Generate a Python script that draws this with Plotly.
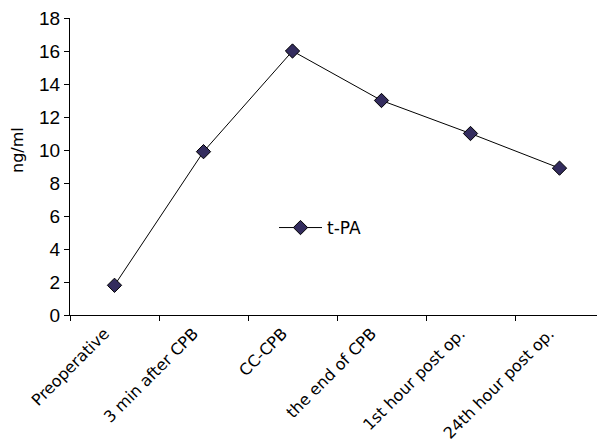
import plotly.graph_objects as go

categories = ["Preoperative", "3 min after CPB", "CC-CPB", "the end of CPB",
              "1st hour post op.", "24th hour post op."]
tpa_values = [1.8, 9.9, 16.0, 13.0, 11.0, 8.9]
y_ticks = [0, 2, 4, 6, 8, 10, 12, 14, 16, 18]

fig = go.Figure()
fig.add_trace(go.Scatter(
    x=categories, y=tpa_values, name="t-PA", mode="lines+markers",
    line=dict(color="black", width=1),
    marker=dict(symbol="diamond", size=11, color="#332C5E",
                line=dict(color="black", width=1)),
))

# page body has an 8px default margin, so the figure is offset by 8px
fig.update_layout(
    width=597, height=437,
    margin=dict(l=62, r=1, t=10, b=130),
    paper_bgcolor="white", plot_bgcolor="white",
    font=dict(family="Liberation Sans, Arial, sans-serif", color="black"),
    showlegend=True,
    legend=dict(x=(274 - 70) / 534, y=(315 - 228) / 297, xanchor="left", yanchor="middle",
                bgcolor="rgba(0,0,0,0)", itemwidth=43,
                font=dict(size=17, family="DejaVu Sans, sans-serif")),
    annotations=[dict(text="ng/ml", xref="paper", yref="paper",
                      x=(17 - 70) / 534, y=(315 - 150) / 297,
                      xanchor="center", yanchor="middle", textangle=-90,
                      showarrow=False,
                      font=dict(size=16, family="DejaVu Sans, sans-serif"))],
)
fig.update_xaxes(
    type="category", range=[-0.5, 5.5], tickson="boundaries",
    showline=True, linecolor="black", linewidth=1,
    ticks="outside", ticklen=5, tickcolor="black",
    tickangle=-45, tickfont=dict(size=16, family="DejaVu Sans, sans-serif"),
    ticklabelstandoff=2, ticklabelshift=-10, ticklabeloverflow="allow",
    showgrid=False, automargin=False,
)
fig.update_yaxes(
    range=[0, 18], tickvals=y_ticks, showline=True, linecolor="black", linewidth=1,
    ticks="outside", ticklen=5, tickcolor="black", tickfont=dict(size=19),
    ticklabeloverflow="allow",
    showgrid=False, zeroline=False, automargin=False,
)

fig.write_html("out.html")
